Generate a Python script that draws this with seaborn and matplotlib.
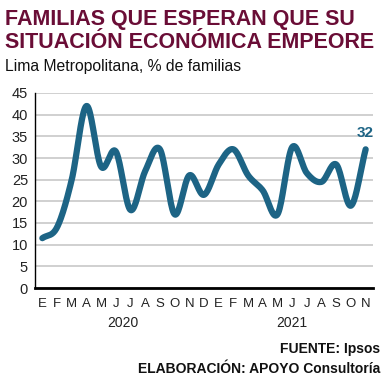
import numpy as np
import pandas as pd
import matplotlib
matplotlib.use("Agg")
import matplotlib.pyplot as plt
import seaborn as sns

months = ["E", "F", "M", "A", "M", "J", "J", "A", "S", "O", "N", "D",
          "E", "F", "M", "A", "M", "J", "J", "A", "S", "O", "N"]
values = [11.5, 14, 25, 42, 28, 31.5, 18, 27, 32, 17, 26, 21.5,
          28.5, 32, 26, 22.5, 17, 32.5, 26.5, 24.5, 28.5, 19, 32]
years = ["2020", "2021"]
yticks = [0, 5, 10, 15, 20, 25, 30, 35, 40, 45]

TITLE_COLOR = "#6A0D36"
LINE_COLOR = "#1D6485"

sns.set_theme(style="white")
plt.rcParams['font.family'] = ['Liberation Sans', 'DejaVu Sans']


def smooth(xs, ys, n=20):
    # Catmull-Rom style smoothing (like Excel "smoothed line")
    xs = np.asarray(xs, float)
    ys = np.asarray(ys, float)
    px = np.concatenate([[2 * xs[0] - xs[1]], xs, [2 * xs[-1] - xs[-2]]])
    py = np.concatenate([[2 * ys[0] - ys[1]], ys, [2 * ys[-1] - ys[-2]]])
    ox, oy = [], []
    t = np.linspace(0, 1, n, endpoint=False)
    for i in range(1, len(px) - 2):
        p0, p1, p2, p3 = py[i - 1], py[i], py[i + 1], py[i + 2]
        yy = 0.5 * ((2 * p1) + (-p0 + p2) * t + (2 * p0 - 5 * p1 + 4 * p2 - p3) * t ** 2
                    + (-p0 + 3 * p1 - 3 * p2 + p3) * t ** 3)
        xx = px[i] + (px[i + 1] - px[i]) * t
        ox.extend(xx)
        oy.extend(yy)
    ox.append(xs[-1])
    oy.append(ys[-1])
    return np.array(ox), np.array(oy)


x = np.arange(len(values))
sx, sy = smooth(x, values)
df = pd.DataFrame({"x": sx, "y": sy})

fig = plt.figure(figsize=(3.85, 3.8), dpi=100)
ax = fig.add_axes([35 / 385, 1 - 288 / 380, (373 - 35) / 385, (288 - 93) / 380])

sns.lineplot(data=df, x="x", y="y", ax=ax, color=LINE_COLOR, linewidth=4.5,
             sort=False, estimator=None)

ax.set_xlim(-0.4, len(values) - 0.6)
ax.set_ylim(0, 45)
ax.set_yticks(yticks)
ax.set_yticklabels([str(v) for v in yticks], fontsize=10.5, color="#222222")
ax.set_xticks(x)
ax.set_xticklabels(months, fontsize=9.5, color="#222222")
ax.set_xticks(np.arange(len(values) + 1) - 0.5, minor=True)
ax.tick_params(axis="x", which="major", length=0, pad=7)
ax.tick_params(axis="x", which="minor", length=3, width=1.5, color="black", direction="out")
ax.tick_params(axis="y", which="major", length=3, width=1, color="black", direction="out", pad=2)
ax.set_xlabel("")
ax.set_ylabel("")
ax.grid(axis="y", color="#c8c8c8", linewidth=1.2)
ax.set_axisbelow(True)
for s in ["top", "right"]:
    ax.spines[s].set_visible(False)
ax.spines["left"].set_color("black")
ax.spines["left"].set_linewidth(1)
ax.spines["bottom"].set_color("black")
ax.spines["bottom"].set_linewidth(2)

ax.annotate(f"{values[-1]:.0f}", (x[-1], values[-1]), xytext=(0, 7),
            textcoords="offset points", ha="center", va="bottom",
            fontsize=11, fontweight="bold", color=LINE_COLOR)

# year labels
ax.text(5.5, -0.18, years[0], transform=ax.get_xaxis_transform(), ha="center",
        va="center", fontsize=10, color="#222222")
ax.text(17, -0.18, years[1], transform=ax.get_xaxis_transform(), ha="center",
        va="center", fontsize=10, color="#222222")

fig.text(5 / 385, 1 - 20 / 380, "FAMILIAS QUE ESPERAN QUE SU", fontsize=15.5,
         fontweight="bold", color=TITLE_COLOR, ha="left", va="center")
fig.text(5 / 385, 1 - 43 / 380, "SITUACIÓN ECONÓMICA EMPEORE", fontsize=15.5,
         fontweight="bold", color=TITLE_COLOR, ha="left", va="center")
fig.text(5 / 385, 1 - 66 / 380, "Lima Metropolitana, % de familias", fontsize=11.3,
         color="#111111", ha="left", va="center")

fig.text(380 / 385, 1 - 349 / 380, "FUENTE: Ipsos", fontsize=10,
         fontweight="bold", color="#111111", ha="right", va="center")
fig.text(380 / 385, 1 - 369 / 380, "ELABORACIÓN: APOYO Consultoría", fontsize=10,
         fontweight="bold", color="#111111", ha="right", va="center")

fig.savefig("out.png", dpi=100, facecolor="white")
